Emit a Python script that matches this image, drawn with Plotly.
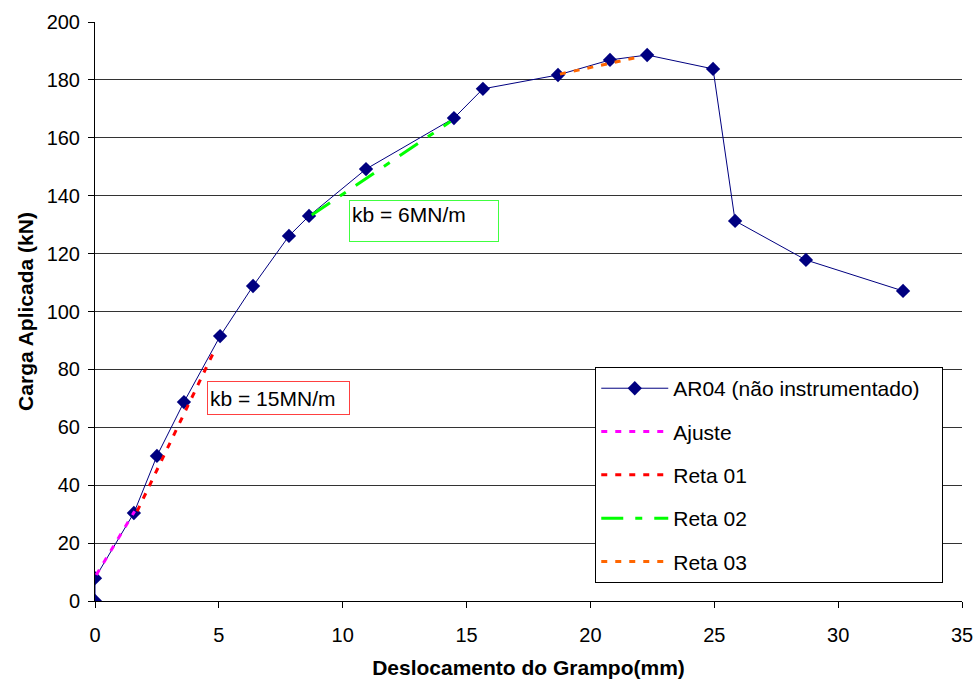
import plotly.graph_objects as go

# Main series
desloc = [0, 0, 1.57, 2.50, 3.59, 5.05, 6.38, 7.83, 8.64, 10.94, 14.49, 15.66, 18.69, 20.79, 22.29, 24.95, 25.84, 28.70, 32.62]
carga = [0, 7.9, 30.4, 50.1, 68.7, 91.5, 108.8, 126.1, 133.0, 149.2, 166.8, 176.9, 181.7, 186.9, 188.6, 183.8, 131.3, 117.8, 107.1]

# Fitted lines
ajuste_x = [0.05, 1.6]
ajuste_y = [9.0, 31.0]
reta01_x = [1.7, 4.85]
reta01_y = [31.0, 87.0]
reta02_x = [8.75, 14.35]
reta02_y = [133.3, 165.6]
reta03_x = [18.77, 22.0]
reta03_y = [182.0, 188.0]

FONT = "Arial, Liberation Sans, sans-serif"

fig = go.Figure()
fig.add_trace(go.Scatter(x=desloc, y=carga, mode="lines+markers", name="AR04 (não instrumentado)\u00a0\u00a0\u00a0",
                         line=dict(color="#000080", width=1),
                         marker=dict(symbol="diamond", size=11, color="#000080"),
                         legendgroup="a"))
fig.add_trace(go.Scatter(x=ajuste_x, y=ajuste_y, mode="lines", name="Ajuste",
                         line=dict(color="#FF00FF", width=3, dash="6px,8px"), legendgroup="b"))
fig.add_trace(go.Scatter(x=reta01_x, y=reta01_y, mode="lines", name="Reta 01",
                         line=dict(color="#FF0000", width=3, dash="6px,8px"), legendgroup="c"))
fig.add_trace(go.Scatter(x=reta02_x, y=reta02_y, mode="lines", name="Reta 02",
                         line=dict(color="#00FF00", width=3, dash="22px,12px,7px,12px"), legendgroup="d"))
fig.add_trace(go.Scatter(x=reta03_x, y=reta03_y, mode="lines", name="Reta 03",
                         line=dict(color="#FF6600", width=3, dash="6px,8px"), legendgroup="e"))

fig.add_annotation(x=4.52, y=70.1, xref="x", yref="y", xanchor="left", yanchor="middle",
                   text="kb = 15MN/m", showarrow=False, font=dict(family=FONT, size=21, color="black"),
                   bordercolor="#FF4040", borderwidth=1, borderpad=2, bgcolor="white",
                   width=137, height=28, align="left", valign="middle")
fig.add_annotation(x=10.25, y=131.4, xref="x", yref="y", xanchor="left", yanchor="middle",
                   text="kb = 6MN/m", showarrow=False, font=dict(family=FONT, size=21, color="black"),
                   bordercolor="#40FF40", borderwidth=1, borderpad=2, bgcolor="white",
                   width=144, height=36, align="left", valign="top")

fig.update_layout(
    width=977, height=682,
    margin=dict(l=95, r=15, t=22, b=81, autoexpand=False),
    paper_bgcolor="white", plot_bgcolor="white",
    font=dict(family=FONT, size=20, color="black"),
    showlegend=True,
    legend=dict(x=0.577, y=0.404, xanchor="left", yanchor="top",
                bgcolor="white", bordercolor="black", borderwidth=1,
                font=dict(family=FONT, size=21, color="black"),
                traceorder="grouped", tracegroupgap=13, itemwidth=67),
    xaxis=dict(range=[0, 35], dtick=5, tick0=0, showgrid=False, zeroline=False, automargin=False,
               showline=True, linecolor="black", linewidth=1, ticks="outside",
               ticklen=6, tickcolor="black", ticklabelstandoff=10,
               title=dict(text="<b>Deslocamento do Grampo(mm)</b>", font=dict(family=FONT, size=21), standoff=15)),
    yaxis=dict(range=[0, 200], dtick=20, tick0=0, showgrid=True, gridcolor="#333333", gridwidth=1,
               zeroline=False, showline=True, linecolor="black", linewidth=1, ticks="outside", automargin=False,
               ticklen=6, tickcolor="black", ticklabelstandoff=4,
               title=dict(text="<b>Carga Aplicada (kN)</b>", font=dict(family=FONT, size=21), standoff=7)),
)

fig.write_html("out.html")
